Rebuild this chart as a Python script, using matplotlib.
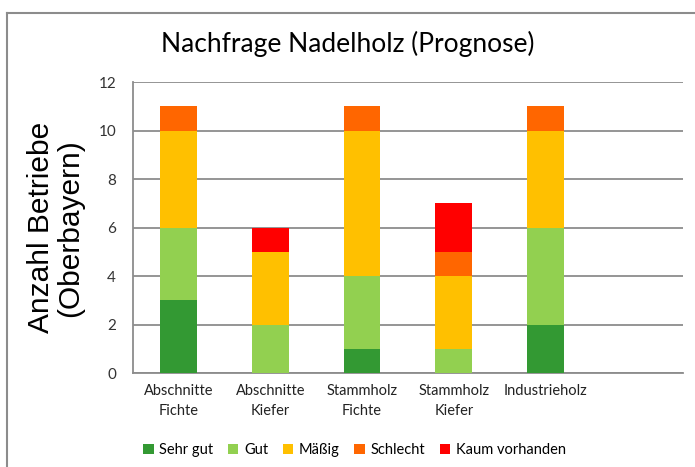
import numpy as np
import matplotlib.pyplot as plt
from matplotlib.lines import Line2D

# data
categories = ['Abschnitte\nFichte', 'Abschnitte\nKiefer', 'Stammholz\nFichte',
              'Stammholz\nKiefer', 'Industrieholz', '']
series_names = ['Sehr gut', 'Gut', 'Mäßig', 'Schlecht', 'Kaum vorhanden']
sehr_gut = [3, 0, 1, 0, 2, 0]
gut = [3, 2, 3, 1, 4, 0]
maessig = [4, 3, 6, 3, 4, 0]
schlecht = [1, 0, 1, 1, 1, 0]
kaum = [0, 1, 0, 2, 0, 0]
colors = ['#339933', '#92D050', '#FFC000', '#FF6600', '#FF0000']

plt.rcParams['font.family'] = ['Lato', 'DejaVu Sans']

fig = plt.figure(figsize=(6.95, 4.67), dpi=100)
ax = fig.add_axes([0.191, 0.201, 0.792, 0.623])

x = np.arange(len(categories))
bottom = np.zeros(len(categories))
for name, vals, col in zip(series_names, [sehr_gut, gut, maessig, schlecht, kaum], colors):
    ax.bar(x, vals, width=0.4, bottom=bottom, color=col, label=name, zorder=3)
    bottom += np.array(vals)

ax.set_xlim(-0.5, len(categories) - 0.5)
ax.set_ylim(0, 12)
ax.set_yticks(range(0, 13, 2))
ax.yaxis.grid(True, color='#8c8c8c', linewidth=1.3, zorder=0)
ax.set_xticks(x)
ax.set_xticklabels(categories, fontsize=10.5, color='#222222', linespacing=1.5)
ax.tick_params(axis='x', length=0, pad=8)
ax.tick_params(axis='y', length=0, pad=12, labelsize=11, labelcolor='#333333')
for side in ['top', 'right']:
    ax.spines[side].set_visible(False)
for side in ['left', 'bottom']:
    ax.spines[side].set_color('#8c8c8c')
    ax.spines[side].set_linewidth(1.3)

ax.set_ylabel('Anzahl Betriebe\n(Oberbayern)', family='Liberation Sans', fontsize=21.5,
              linespacing=1.05, labelpad=10)
fig.text(0.5, 0.905, 'Nachfrage Nadelholz (Prognose)', ha='center', va='center', fontsize=19)

fig.legend(loc='center', bbox_to_anchor=(0.51, 0.036), ncol=5, frameon=False,
           handlelength=0.7, handleheight=0.7, handletextpad=0.4, columnspacing=1.0,
           fontsize=10.5)

# grey outer frame
fig.add_artist(Line2D([0.01, 0.01], [0, 0.972], color='#8c8c8c', linewidth=1.5))
fig.add_artist(Line2D([0.01, 1.0], [0.972, 0.972], color='#8c8c8c', linewidth=1.5))

fig.savefig('out.png')
